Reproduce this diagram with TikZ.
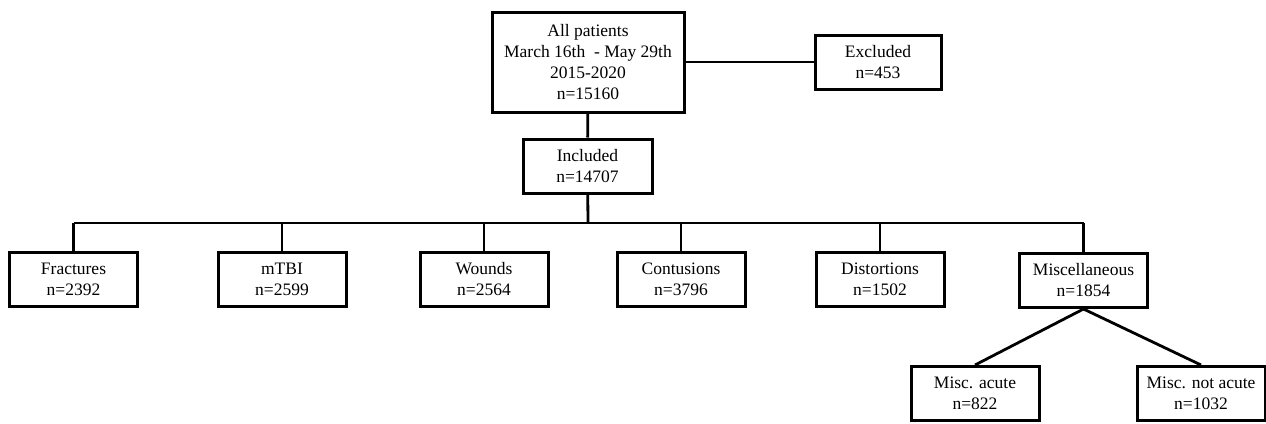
\documentclass[tikz,border=0pt]{standalone}
\usepackage{fontspec}
\setmainfont{Liberation Serif}
\usepackage{tikz}
\usetikzlibrary{calc}

\tikzset{
    flowbox/.style={draw=black, line width=3pt, align=center, inner sep=0pt,
        minimum width=128pt, minimum height=54pt,
        font=\fontsize{17.5}{21}\selectfont},
    link/.style={line width=2.8pt}
}

\begin{document}
\begin{tikzpicture}[x=1pt, y=-1pt]

    % =========================================================================
    % FRAME (keeps the margins of the page)
    % =========================================================================
    \useasboundingbox (0,0) rectangle (1266,423);

    % --- Top: all patients and exclusions ---
    \node[flowbox, minimum width=192pt, minimum height=100pt] (all) at (588, 62)
        {All patients\\March 16th\ \ - May 29th\\2015-2020\\n=15160};
    \node[flowbox, minimum width=126pt] (excl) at (878, 62) {Excluded\\n=453};
    \node[flowbox, minimum width=129pt] (incl) at (587.5, 166) {Included\\n=14707};

    \draw[link] (all) -- (excl);
    \draw[link] (all) -- (incl);

    % --- Middle row: injury groups ---
    \node[flowbox] (frac) at (73.5, 279.5) {Fractures\\n=2392};
    \node[flowbox] (mtbi) at (282, 279.5) {mTBI\\n=2599};
    \node[flowbox] (wound) at (484, 279.5) {Wounds\\n=2564};
    \node[flowbox] (contu) at (681, 279.5) {Contusions\\n=3796};
    \node[flowbox] (disto) at (880, 279.5) {Distortions\\n=1502};
    \node[flowbox] (misc) at (1083.5, 280.5) {Miscellaneous\\n=1854};

    \coordinate (bar) at (588, 223);
    \draw[link] (incl) -- (bar);
    \draw[link] (bar -| frac.north) -- (bar -| misc.north);
    \foreach \grp in {frac, mtbi, wound, contu, disto, misc}
        \draw[link] (bar -| \grp.north) -- (\grp.north);

    % --- Bottom: split of miscellaneous ---
    \node[flowbox] (acute) at (975, 393.5) {Misc. acute\\n=822};
    \node[flowbox] (notacute) at (1201, 393.5) {Misc. not acute\\n=1032};

    \draw[link] (misc.south) -- (acute.north);
    \draw[link] (misc.south) -- (notacute.north);

\end{tikzpicture}
\end{document}
